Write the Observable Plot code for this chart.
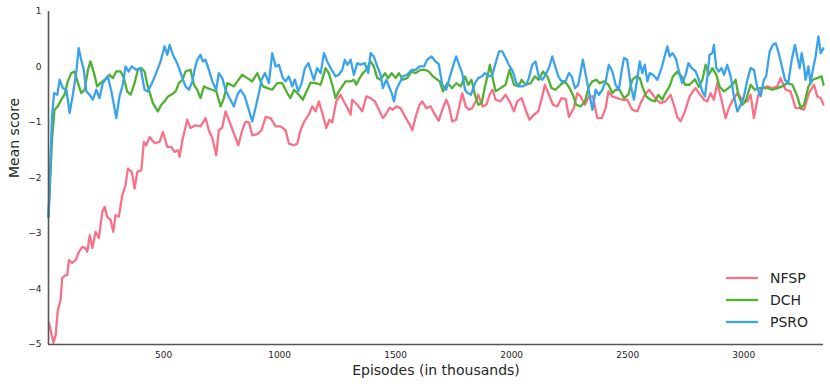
<!DOCTYPE html>
<html><head><meta charset="utf-8">
<script src="https://cdn.jsdelivr.net/npm/d3@7"></script>
<script src="https://cdn.jsdelivr.net/npm/@observablehq/plot@0.6"></script>
<style>
body{margin:0;background:#fff;}
#wrap{position:relative;width:830px;height:387px;}
#legend{position:absolute;left:726px;top:267px;font-family:"DejaVu Sans";font-size:14px;color:#262626;}
.row{display:flex;align-items:center;height:22px;}
.row svg{margin-right:12px;}
</style></head><body><div id="wrap"></div>
<script>
const seriesNames = ["NFSP", "DCH", "PSRO"];
const seriesColors = ["#f77189", "#50b131", "#3ba3ec"];
const xTicks = [500, 1000, 1500, 2000, 2500, 3000];
const yTicks = [-5, -4, -3, -2, -1, 0, 1];

const nfsp = [[6,-4.61],[25,-4.97],[35,-4.83],[44,-4.38],[56,-4.2],[63,-3.8],[78,-3.75],[85,-3.75],[92,-3.48],[106,-3.53],[121,-3.48],[135,-3.33],[150,-3.24],[164,-3.27],[171,-3.33],[182,-3.03],[193,-3.26],[207,-2.97],[221,-3.08],[236,-2.61],[246,-2.52],[257,-2.70],[272,-2.76],[283,-2.97],[293,-2.67],[307,-2.70],[322,-2.31],[336,-2.13],[346,-1.83],[363,-1.89],[375,-2.19],[387,-1.89],[404,-1.86],[415,-1.35],[425,-1.41],[440,-1.26],[461,-1.37],[483,-1.35],[497,-1.17],[516,-1.44],[533,-1.44],[547,-1.53],[562,-1.50],[569,-1.62],[581,-1.32],[602,-0.95],[616,-1.10],[638,-1.05],[659,-1.07],[681,-0.92],[695,-1.14],[710,-1.28],[727,-1.59],[738,-1.14],[753,-1.09],[767,-0.80],[781,-0.95],[803,-1.20],[822,-1.41],[839,-1.14],[853,-0.99],[868,-1.0],[882,-1.23],[904,-1.21],[922,-1.14],[940,-0.90],[961,-0.92],[983,-1.07],[1004,-1.07],[1026,-1.14],[1040,-1.38],[1061,-1.41],[1076,-1.38],[1090,-1.14],[1105,-0.99],[1126,-0.86],[1141,-0.71],[1155,-0.80],[1169,-0.62],[1184,-0.83],[1201,-1.10],[1215,-0.95],[1227,-1.0],[1244,-0.62],[1263,-0.50],[1277,-0.62],[1292,-0.74],[1306,-0.86],[1313,-0.59],[1335,-0.68],[1356,-0.80],[1374,-0.53],[1392,-0.56],[1411,-0.62],[1428,-0.77],[1445,-0.92],[1457,-0.86],[1474,-0.73],[1488,-0.77],[1503,-0.71],[1521,-0.74],[1540,-0.89],[1557,-1.01],[1572,-1.14],[1589,-0.86],[1603,-0.68],[1615,-0.62],[1632,-0.74],[1651,-0.71],[1669,-0.86],[1686,-0.97],[1701,-0.77],[1718,-0.59],[1730,-0.71],[1744,-0.98],[1761,-0.95],[1776,-0.68],[1787,-0.47],[1802,-0.71],[1816,-0.77],[1830,-0.74],[1845,-0.62],[1856,-0.50],[1874,-0.71],[1891,-0.68],[1905,-0.50],[1917,-0.41],[1931,-0.59],[1952,-0.62],[1974,-0.50],[1991,-0.62],[2010,-0.80],[2024,-0.62],[2043,-0.56],[2060,-0.77],[2077,-0.95],[2096,-0.86],[2115,-0.80],[2132,-0.53],[2143,-0.32],[2161,-0.50],[2178,-0.68],[2197,-0.71],[2215,-0.56],[2233,-0.58],[2247,-0.90],[2268,-0.74],[2283,-0.47],[2297,-0.53],[2316,-0.68],[2333,-0.53],[2350,-0.53],[2369,-0.92],[2388,-0.92],[2405,-0.74],[2417,-0.44],[2434,-0.53],[2455,-0.56],[2477,-0.59],[2498,-0.59],[2520,-0.77],[2542,-0.80],[2556,-0.65],[2574,-0.50],[2592,-0.41],[2609,-0.50],[2623,-0.59],[2642,-0.65],[2663,-0.62],[2685,-0.50],[2699,-0.68],[2714,-0.90],[2728,-0.98],[2747,-0.80],[2767,-0.53],[2786,-0.41],[2793,-0.38],[2807,-0.47],[2829,-0.59],[2843,-0.62],[2857,-0.47],[2872,-0.59],[2886,-0.29],[2901,-0.53],[2922,-0.92],[2936,-0.74],[2954,-0.59],[2973,-0.47],[2994,-0.59],[3016,-0.62],[3030,-0.50],[3044,-0.92],[3063,-0.50],[3080,-0.38],[3102,-0.35],[3123,-0.38],[3145,-0.35],[3159,-0.20],[3181,-0.41],[3202,-0.44],[3224,-0.74],[3241,-0.74],[3260,-0.77],[3281,-0.47],[3303,-0.32],[3317,-0.53],[3332,-0.56],[3344,-0.68]];

const dch = [[4,-2.7],[19,-1.32],[30,-0.77],[44,-0.71],[59,-0.59],[73,-0.50],[87,-0.26],[102,-0.11],[116,-0.08],[131,-0.29],[145,-0.47],[160,-0.41],[174,-0.05],[185,0.10],[200,-0.11],[214,-0.35],[228,-0.29],[246,-0.23],[267,-0.14],[281,-0.20],[296,-0.08],[315,-0.08],[329,-0.20],[343,-0.44],[358,-0.50],[375,-0.29],[389,-0.05],[404,-0.02],[418,-0.08],[432,-0.35],[454,-0.65],[475,-0.80],[490,-0.68],[504,-0.62],[519,-0.53],[533,-0.50],[552,-0.44],[566,-0.29],[581,-0.23],[595,-0.08],[616,-0.05],[631,-0.32],[645,-0.41],[659,-0.56],[674,-0.35],[688,-0.38],[710,-0.41],[727,-0.44],[746,-0.71],[760,-0.56],[775,-0.29],[789,-0.32],[803,-0.35],[818,-0.26],[839,-0.14],[861,-0.20],[882,-0.26],[904,-0.11],[918,-0.26],[928,-0.35],[947,-0.38],[968,-0.41],[990,-0.29],[1011,-0.29],[1033,-0.47],[1047,-0.56],[1062,-0.41],[1083,-0.50],[1100,-0.59],[1115,-0.45],[1134,-0.28],[1155,-0.29],[1177,-0.32],[1198,-0.02],[1212,-0.11],[1227,-0.32],[1241,-0.56],[1255,-0.44],[1270,-0.35],[1284,-0.26],[1306,-0.26],[1320,-0.23],[1330,-0.32],[1345,-0.20],[1359,-0.11],[1374,-0.05],[1392,0.10],[1406,0.01],[1421,-0.20],[1435,-0.23],[1454,-0.11],[1468,-0.20],[1483,-0.11],[1500,-0.20],[1514,-0.11],[1531,-0.23],[1550,-0.20],[1569,-0.08],[1586,-0.11],[1608,-0.05],[1626,-0.05],[1643,-0.08],[1661,-0.17],[1680,-0.23],[1690,-0.26],[1704,-0.44],[1723,-0.29],[1744,-0.38],[1761,-0.29],[1780,-0.35],[1799,-0.17],[1813,-0.32],[1827,-0.23],[1842,-0.50],[1856,-0.68],[1871,-0.65],[1885,-0.35],[1899,-0.11],[1906,0.04],[1917,-0.17],[1931,-0.44],[1952,-0.38],[1974,-0.32],[1991,-0.05],[2010,-0.32],[2029,-0.35],[2043,-0.23],[2060,-0.32],[2082,-0.29],[2100,-0.17],[2117,-0.23],[2135,-0.08],[2154,-0.17],[2172,-0.38],[2189,-0.41],[2211,-0.32],[2229,-0.26],[2247,-0.36],[2264,-0.50],[2278,-0.68],[2297,-0.71],[2316,-0.62],[2333,-0.35],[2348,-0.26],[2365,-0.23],[2379,-0.29],[2398,-0.26],[2417,-0.32],[2434,-0.47],[2448,-0.41],[2465,-0.41],[2484,-0.56],[2503,-0.50],[2520,-0.23],[2537,-0.17],[2552,-0.20],[2566,-0.38],[2580,-0.53],[2599,-0.59],[2617,-0.62],[2632,-0.50],[2649,-0.59],[2663,-0.47],[2681,-0.35],[2695,-0.17],[2714,-0.08],[2733,-0.17],[2747,-0.32],[2767,-0.32],[2790,-0.22],[2807,-0.36],[2822,-0.23],[2836,0.04],[2850,-0.14],[2865,-0.02],[2882,-0.14],[2896,-0.35],[2915,-0.44],[2934,-0.38],[2951,-0.32],[2965,-0.23],[2977,-0.50],[2994,-0.68],[3008,-0.62],[3030,-0.32],[3048,-0.41],[3069,-0.38],[3087,-0.38],[3106,-0.38],[3123,-0.41],[3145,-0.38],[3166,-0.35],[3188,-0.29],[3210,-0.32],[3231,-0.53],[3246,-0.74],[3260,-0.68],[3279,-0.35],[3298,-0.23],[3317,-0.20],[3336,-0.17],[3344,-0.32]];

const psro = [[4,-2.7],[19,-0.90],[28,-0.47],[42,-0.50],[52,-0.23],[66,-0.38],[81,-0.41],[95,-0.83],[109,-0.50],[124,-0.08],[134,0.34],[145,0.13],[156,-0.05],[167,-0.44],[181,-0.50],[195,-0.59],[210,-0.41],[224,-0.56],[238,-0.29],[260,-0.17],[275,-0.44],[286,-0.68],[296,-0.92],[310,-0.53],[324,-0.32],[336,0.01],[349,-0.08],[363,0.01],[382,-0.05],[401,-0.02],[418,-0.41],[432,-0.44],[450,-0.29],[468,-0.11],[487,0.10],[504,0.37],[516,0.22],[526,0.40],[540,0.22],[555,0.10],[569,-0.05],[581,-0.20],[595,-0.35],[609,-0.41],[624,-0.26],[635,-0.02],[645,0.13],[659,0.22],[669,0.10],[681,0.13],[695,-0.05],[710,-0.26],[727,-0.41],[738,-0.11],[753,-0.20],[767,-0.41],[784,-0.56],[803,-0.71],[818,-0.50],[832,-0.41],[850,-0.53],[865,-0.74],[882,-0.98],[896,-0.74],[911,-0.47],[922,-0.23],[937,-0.11],[954,-0.29],[968,0.25],[983,0.01],[997,0.04],[1014,-0.20],[1026,-0.26],[1040,-0.17],[1054,-0.35],[1066,-0.23],[1080,-0.44],[1095,-0.29],[1109,-0.02],[1124,0.07],[1138,-0.11],[1148,-0.23],[1162,-0.02],[1177,-0.11],[1191,0.25],[1205,0.10],[1224,-0.05],[1241,-0.17],[1255,-0.14],[1270,-0.05],[1281,0.13],[1292,0.04],[1306,0.13],[1320,-0.14],[1335,0.07],[1349,0.04],[1367,0.07],[1382,-0.11],[1392,0.25],[1406,0.19],[1421,0.01],[1435,-0.14],[1445,-0.38],[1460,-0.23],[1471,-0.35],[1483,-0.47],[1493,-0.62],[1503,-0.41],[1517,-0.29],[1531,-0.17],[1550,-0.14],[1569,-0.05],[1586,-0.05],[1603,0.01],[1622,0.01],[1636,0.13],[1655,0.19],[1672,0.10],[1686,0.05],[1701,-0.32],[1718,-0.41],[1732,-0.20],[1747,0.01],[1761,0.19],[1776,0.01],[1787,-0.11],[1799,-0.41],[1810,-0.47],[1825,-0.50],[1842,-0.29],[1856,-0.20],[1871,-0.17],[1885,-0.11],[1902,-0.17],[1917,-0.14],[1931,0.07],[1945,0.28],[1960,0.28],[1974,0.16],[1988,0.04],[2005,-0.08],[2020,-0.29],[2034,-0.35],[2048,-0.35],[2063,-0.32],[2074,-0.20],[2089,0.04],[2103,0.10],[2117,-0.17],[2132,-0.23],[2146,-0.14],[2163,0.01],[2175,0.19],[2186,0.04],[2201,-0.17],[2215,-0.26],[2233,-0.25],[2247,-0.11],[2259,-0.17],[2273,-0.38],[2287,-0.32],[2307,0.13],[2322,-0.20],[2336,-0.50],[2348,-0.77],[2362,-0.41],[2376,-0.50],[2391,-0.41],[2405,-0.26],[2419,0.04],[2434,-0.08],[2448,-0.32],[2462,-0.41],[2474,-0.08],[2484,0.16],[2498,0.13],[2513,-0.32],[2527,-0.59],[2542,-0.20],[2552,0.10],[2563,-0.11],[2574,0.04],[2585,-0.26],[2595,-0.11],[2609,-0.14],[2628,-0.23],[2646,-0.02],[2661,0.22],[2671,0.37],[2681,0.19],[2693,0.25],[2707,0.16],[2721,-0.08],[2735,-0.29],[2750,-0.14],[2762,0.07],[2776,-0.02],[2793,-0.08],[2807,-0.23],[2822,-0.44],[2833,-0.53],[2843,-0.20],[2853,0.22],[2865,0.25],[2872,0.40],[2882,-0.02],[2893,-0.08],[2905,-0.02],[2915,-0.14],[2929,0.04],[2944,-0.17],[2958,-0.53],[2973,-0.80],[2987,-0.68],[3001,-0.53],[3016,-0.23],[3030,-0.02],[3044,-0.05],[3059,-0.38],[3073,-0.53],[3087,-0.23],[3097,-0.17],[3112,0.28],[3126,0.40],[3138,0.43],[3149,0.28],[3163,0.04],[3178,-0.23],[3192,-0.29],[3207,0.13],[3221,0.40],[3231,0.19],[3241,-0.02],[3250,0.25],[3260,0.01],[3267,-0.23],[3279,0.01],[3288,-0.29],[3298,-0.05],[3310,0.19],[3322,0.55],[3332,0.25],[3344,0.34]];

const rows = [];
[nfsp, dch, psro].forEach((s, i) => s.forEach(([x, y]) => rows.push({series: seriesNames[i], x, y})));
const minus = d => d < 0 ? "\u2212" + Math.abs(d) : String(d);
const xMin = 4, xMax = 3344;

const chart = Plot.plot({
  width: 830, height: 387,
  marginLeft: 48, marginRight: 7, marginTop: 11, marginBottom: 43,
  style: {fontFamily: "DejaVu Sans", fontSize: "9px", color: "#262626", background: "white", overflow: "visible"},
  x: {domain: [xMin, xMax], ticks: xTicks, tickSize: 0, tickPadding: 7, tickFormat: d => String(d), label: null},
  y: {domain: [yTicks[0], yTicks[yTicks.length - 1]], ticks: yTicks, tickSize: 0, tickPadding: 7, tickFormat: minus, label: null},
  color: {domain: seriesNames, range: seriesColors},
  marks: [
    Plot.line(rows, {x: "x", y: "y", z: "series", stroke: "series", strokeWidth: 2.3}),
    Plot.ruleX([xMin], {stroke: "#555", strokeWidth: 1.6}),
    Plot.ruleY([yTicks[0]], {stroke: "#555", strokeWidth: 1.6}),
    Plot.text(["Episodes (in thousands)"], {text: d => d, frameAnchor: "bottom", dy: 30, fontSize: 14, fill: "#262626"}),
    Plot.text(["Mean score"], {text: d => d, frameAnchor: "left", dx: -34, rotate: -90, fontSize: 14, fill: "#262626"})
  ]
});
const wrap = document.getElementById("wrap");
wrap.appendChild(chart);

const legend = d3.select(wrap).append("div").attr("id", "legend");
seriesNames.forEach((name, i) => {
  const row = legend.append("div").attr("class", "row");
  const sv = row.append("svg").attr("width", 32).attr("height", 10);
  sv.append("line").attr("x1", 0).attr("x2", 32).attr("y1", 5).attr("y2", 5)
    .attr("stroke", seriesColors[i]).attr("stroke-width", 2.3);
  row.append("span").text(name);
});
</script></body></html>
